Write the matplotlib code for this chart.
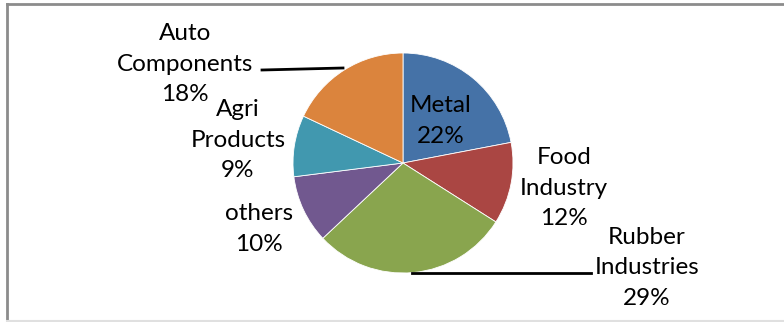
import matplotlib.pyplot as plt

# data
sectors = ["Metal", "Food\nIndustry", "Rubber\nIndustries", "others", "Agri\nProducts", "Auto\nComponents"]
shares = [22, 12, 29, 10, 9, 18]
colors = ["#4572A7", "#AA4643", "#89A54E", "#71588F", "#4198AF", "#DB843D"]

# label centres in pixels (x, y from top)
label_pos = [(441, 121), (564, 188), (647, 268), (259, 229), (238, 140), (185, 64)]

W, H = 784, 322
fig = plt.figure(figsize=(W / 100, H / 100), dpi=100)
ax = fig.add_axes([0, 0, 1, 1])

ax.pie(shares, colors=colors, startangle=90, counterclock=False,
       center=(403, H - 163), radius=110,
       wedgeprops=dict(linewidth=0.6, edgecolor="white"))

for name, val, (x, y) in zip(sectors, shares, label_pos):
    ax.text(x, H - y, f"{name}\n{val}%", ha="center", va="center",
            fontsize=17.5, family="Lato", linespacing=1.55, color="black")

# leader lines
ax.plot([262, 343], [H - 70, H - 68], color="black", lw=2)
ax.plot([412, 591], [H - 273, H - 273], color="black", lw=2)

# chart frame
ax.plot([7, 7], [H - 4, 0], color="#8c8c8c", lw=2)
ax.plot([7, W], [H - 4, H - 4], color="#8c8c8c", lw=2)
ax.plot([7, W], [1, 1], color="#e0e0e0", lw=1.5)

ax.set_xlim(0, W)
ax.set_ylim(0, H)
ax.set_aspect("auto")
ax.axis("off")

fig.savefig("out.png", dpi=100)
